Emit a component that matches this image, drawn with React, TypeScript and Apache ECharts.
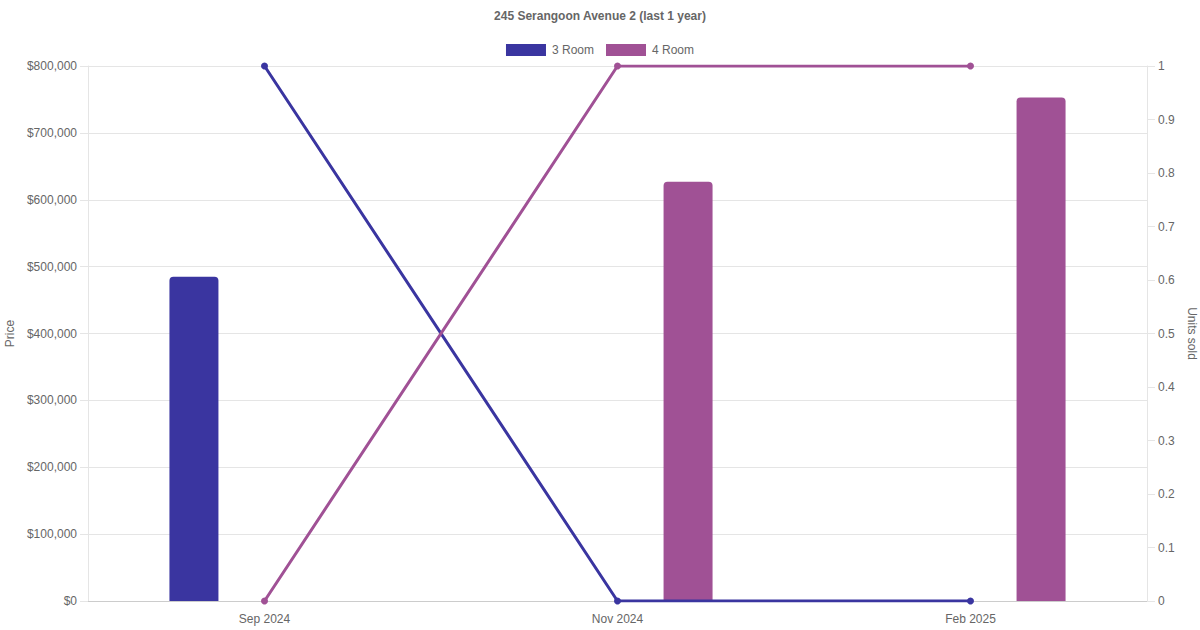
import React, { useEffect, useRef } from "react";
import * as echarts from "echarts";

const categories = ["Sep 2024", "Nov 2024", "Feb 2025"];
const price3Room = [485000, null, null];
const price4Room = [null, 627000, 753000];
const units3Room = [1, 0, 0];
const units4Room = [0, 1, 1];

const C3 = "#3a35a0";
const C4 = "#a05195";
const FONT = "'Liberation Sans', Arial, Helvetica, sans-serif";
const TXT = "#666666";
const GRID = "#e5e5e5";

export default function App() {
  const ref = useRef<HTMLDivElement>(null);
  useEffect(() => {
    if (!ref.current) return;
    const chart = echarts.init(ref.current, undefined, { renderer: "svg" });
    chart.setOption({
      animation: false,
      textStyle: { fontFamily: FONT },
      title: {
        text: "245 Serangoon Avenue 2 (last 1 year)",
        left: "center",
        top: 10,
        padding: 0,
        textStyle: { fontFamily: FONT, fontSize: 12, fontWeight: "bold", color: TXT },
      },
      legend: {
        top: 44,
        left: "center",
        padding: 0,
        itemWidth: 40,
        itemHeight: 12,
        itemGap: 12,
        textStyle: { fontFamily: FONT, fontSize: 12, color: TXT, padding: [0, 0, 0, 1] },
        data: [
          { name: "3 Room", icon: "rect" },
          { name: "4 Room", icon: "rect" },
        ],
      },
      grid: {
        left: 88,
        right: 53,
        top: 66,
        bottom: 29,
        containLabel: false,
        outerBoundsMode: "none",
      },
      xAxis: {
        type: "category",
        data: categories,
        boundaryGap: true,
        axisLine: { show: true, lineStyle: { color: "#cccccc", width: 1 } },
        axisTick: { show: false },
        splitLine: { show: false },
        axisLabel: { color: TXT, fontFamily: FONT, fontSize: 12, margin: 12 },
      },
      yAxis: [
        {
          type: "value",
          min: 0,
          max: 800000,
          interval: 100000,
          name: "Price",
          nameLocation: "middle",
          nameGap: 71,
          nameTextStyle: { color: TXT, fontFamily: FONT, fontSize: 12 },
          axisLine: { show: true, lineStyle: { color: GRID } },
          axisTick: { show: true, length: 8, lineStyle: { color: GRID } },
          splitLine: { show: true, lineStyle: { color: GRID } },
          axisLabel: {
            color: TXT,
            fontFamily: FONT,
            fontSize: 12,
            margin: 11,
            formatter: (v: number) => "$" + v.toLocaleString("en-US"),
          },
        },
        {
          type: "value",
          min: 0,
          max: 1,
          interval: 0.1,
          position: "right",
          name: "Units sold",
          nameLocation: "middle",
          nameGap: 33,
          nameRotate: -90,
          nameTextStyle: { color: TXT, fontFamily: FONT, fontSize: 12 },
          axisLine: { show: true, lineStyle: { color: GRID } },
          axisTick: { show: true, length: 8, lineStyle: { color: GRID } },
          splitLine: { show: false },
          axisLabel: {
            color: TXT,
            fontFamily: FONT,
            fontSize: 12,
            margin: 11,
            formatter: (v: number) => String(Math.round(v * 10) / 10),
          },
        },
      ],
      series: [
        {
          name: "3 Room",
          type: "bar",
          yAxisIndex: 0,
          data: price3Room,
          barWidth: 49,
          barGap: "188%",
          itemStyle: { color: C3, borderRadius: [4, 4, 0, 0] },
          z: 1,
        },
        {
          name: "4 Room",
          type: "bar",
          yAxisIndex: 0,
          data: price4Room,
          barWidth: 49,
          barGap: "188%",
          itemStyle: { color: C4, borderRadius: [4, 4, 0, 0] },
          z: 1,
        },
        {
          name: "3 Room",
          type: "line",
          yAxisIndex: 1,
          data: units3Room,
          symbol: "circle",
          symbolSize: 7,
          lineStyle: { color: C3, width: 3 },
          itemStyle: { color: C3 },
          z: 3,
        },
        {
          name: "4 Room",
          type: "line",
          yAxisIndex: 1,
          data: units4Room,
          symbol: "circle",
          symbolSize: 7,
          lineStyle: { color: C4, width: 3 },
          itemStyle: { color: C4 },
          z: 3,
        },
      ],
    });
    return () => chart.dispose();
  }, []);
  return (
    <div
      ref={ref}
      style={{ position: "fixed", left: 0, top: 0, width: 1200, height: 630, background: "#fff" }}
    />
  );
}
